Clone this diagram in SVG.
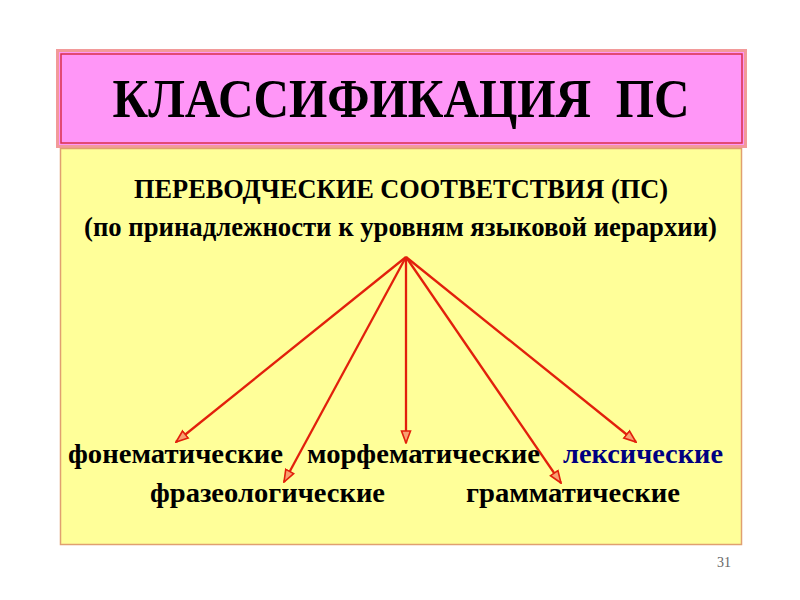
<svg xmlns="http://www.w3.org/2000/svg" width="800" height="600" viewBox="0 0 800 600">
<style>
.t{font-family:"Liberation Serif","Times New Roman",serif;font-weight:bold;fill:#000}
.lbl{font-size:28px}
.con{stroke:#e2200c;stroke-width:2.3;fill:none;marker-end:url(#ah)}
</style>
<defs>
<marker id="ah" viewBox="0 0 14 12" refX="13" refY="6" markerWidth="14" markerHeight="12" markerUnits="userSpaceOnUse" orient="auto">
<path d="M1,1.5 L13,6 L1,10.5 Z" fill="#f8a070" stroke="#e2200c" stroke-width="1.6" stroke-linejoin="miter"/>
</marker>
</defs>
<rect width="800" height="600" fill="#fff"/>
<g id="title">
<rect x="57.5" y="50.5" width="688" height="96" fill="#ff96f7" stroke="#f29a9a" stroke-width="3"/>
<rect x="61" y="54" width="681" height="89" fill="none" stroke="#d9304a" stroke-width="1.5"/>
<text class="t" x="401" y="117" text-anchor="middle" font-size="54" textLength="577" lengthAdjust="spacingAndGlyphs" style="white-space:pre">КЛАССИФИКАЦИЯ  ПС</text>
</g>
<g id="panel">
<rect x="60.5" y="148.5" width="681" height="396" fill="#ffff99" stroke="#e0a070" stroke-width="1.5"/>
</g>
<g id="root">
<text class="t" x="401" y="198" text-anchor="middle" font-size="27" textLength="534" lengthAdjust="spacingAndGlyphs">ПЕРЕВОДЧЕСКИЕ СООТВЕТСТВИЯ (ПС)</text>
<text class="t" x="400.5" y="236" text-anchor="middle" font-size="27" textLength="633" lengthAdjust="spacingAndGlyphs">(по принадлежности к уровням языковой иерархии)</text>
</g>
<g id="connectors">
<line class="con" x1="406" y1="257" x2="176" y2="442"/>
<line class="con" x1="406" y1="257" x2="284" y2="482"/>
<line class="con" x1="406" y1="257" x2="406" y2="443"/>
<line class="con" x1="406" y1="257" x2="561" y2="483"/>
<line class="con" x1="406" y1="257" x2="636" y2="442"/>
</g>
<g id="n-fonem"><text class="t lbl" x="68" y="463" textLength="215" lengthAdjust="spacingAndGlyphs">фонематические</text></g>
<g id="n-morf"><text class="t lbl" x="307" y="463" textLength="233" lengthAdjust="spacingAndGlyphs">морфематические</text></g>
<g id="n-leks"><text class="t lbl" x="563" y="463" textLength="160" lengthAdjust="spacingAndGlyphs" style="fill:#000080">лексические</text></g>
<g id="n-fraz"><text class="t lbl" x="150" y="502" textLength="235" lengthAdjust="spacingAndGlyphs">фразеологические</text></g>
<g id="n-gramm"><text class="t lbl" x="466" y="502" textLength="214" lengthAdjust="spacingAndGlyphs">грамматические</text></g>
<text x="724" y="567" text-anchor="middle" font-family="Liberation Serif, serif" font-size="14" fill="#666">31</text>
</svg>
